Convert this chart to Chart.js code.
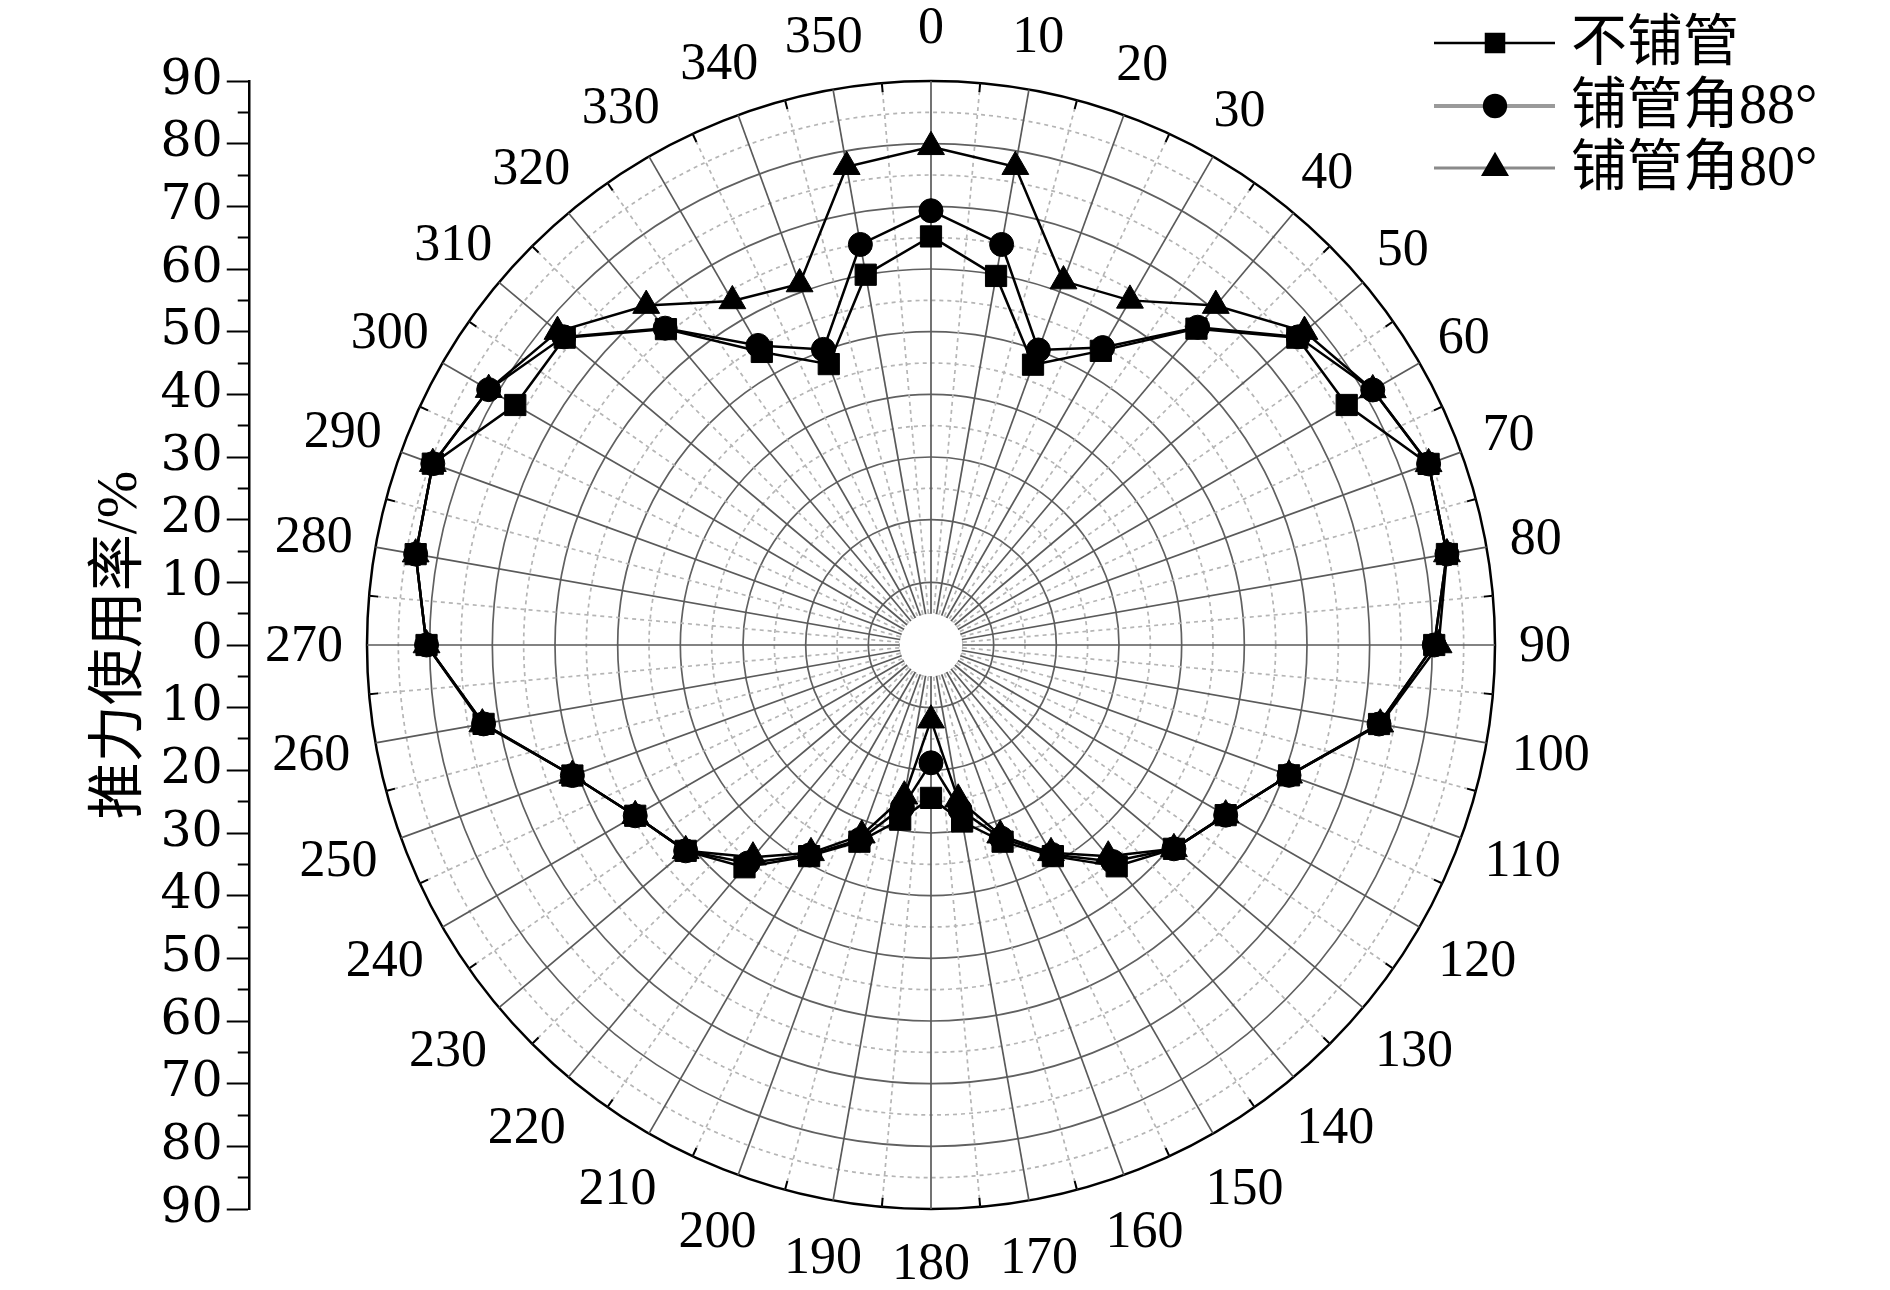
<!DOCTYPE html>
<html>
<head>
<meta charset="utf-8">
<script src="https://cdn.jsdelivr.net/npm/chart.js@4/dist/chart.umd.min.js"></script>
<style>
  html, body { margin: 0; padding: 0; background: #fff; }
  #wrap { position: relative; width: 1890px; height: 1290px; overflow: hidden; }
  #wrap canvas { position: absolute; left: 0; top: 0; }
</style>
</head>
<body>
<div id="wrap">
  <canvas id="axis" width="800" height="1290"></canvas>
  <canvas id="polar" width="1890" height="1290"></canvas>
</div>
<script>
// angle of the thrust direction, degrees (0 at top, clockwise)
const angles = [0, 10, 20, 30, 40, 50, 60, 70, 80, 90, 100, 110, 120, 130, 140, 150, 160, 170,
  180, 190, 200, 210, 220, 230, 240, 250, 260, 270, 280, 290, 300, 310, 320, 330, 340, 350];

// thrust utilisation, %
const noPipe = [65.2, 59.8, 47.6, 54.2, 65.9, 76.3, 76.6, 84.5, 83.6, 80.3, 72.6, 60.8, 54.3, 50.6, 46.1, 38.9, 33.4, 28.6,
  24.4, 28.3, 33.4, 38.9, 46.3, 51.1, 54.5, 60.9, 72.5, 80.5, 83.5, 84.6, 76.6, 76.3, 65.8, 54.0, 47.7, 60.0];
const pipe88 = [69.3, 64.9, 50.1, 54.8, 66.2, 76.5, 81.4, 84.5, 83.6, 80.3, 72.6, 60.8, 54.3, 50.6, 45.1, 38.6, 32.8, 26.7,
  18.8, 26.3, 33.0, 38.7, 45.4, 51.1, 54.5, 60.9, 72.5, 80.5, 83.5, 84.6, 81.5, 76.5, 66.0, 55.2, 50.2, 64.9];
const pipe80 = [79.5, 77.5, 61.8, 63.5, 70.7, 77.8, 81.4, 84.5, 83.6, 81.0, 72.8, 60.8, 54.3, 50.6, 44.0, 38.3, 32.3, 25.0,
  12.0, 24.5, 32.3, 38.3, 44.2, 51.1, 54.5, 60.9, 72.7, 80.5, 83.5, 84.6, 81.5, 77.8, 70.7, 63.4, 61.3, 77.5];

const seriesNames = ['不铺管', '铺管角88°', '铺管角80°'];
const radialTicks = [-90, 90];  // left axis runs 90..0..90

const serif = "'Liberation Serif', 'Times New Roman', serif";
const legendFont = "56px 'Liberation Serif', 'Noto Sans CJK SC', serif";

// The grid has a spoke every 5 degrees (dashed ones in between), so every
// angle gets an empty half-step slot; spanGaps joins the real points.
const slots = [];
angles.forEach((a) => { slots.push(String(a)); slots.push(''); });
const spread = (vals) => vals.flatMap((v) => [v, null]);

// legend drawn like the original: short line with the marker on it
const legendRows = [
  { y: 43, line: '#000', width: 2.5 },
  { y: 106, line: '#9a9a9a', width: 4 },
  { y: 168, line: '#8a8a8a', width: 3 },
];

const polarExtras = {
  id: 'polarExtras',
  beforeDatasetsDraw(chart) {
    const r = chart.scales.r;
    const ctx = chart.ctx;
    ctx.save();
    // blank hub in the middle where the spokes meet
    ctx.fillStyle = '#fff';
    ctx.beginPath();
    ctx.arc(r.xCenter, r.yCenter, r.getDistanceFromCenterForValue(5), 0, Math.PI * 2);
    ctx.fill();
    // short ticks inside the outer ring on the half-step spokes
    const outer = r.getDistanceFromCenterForValue(r.max);
    ctx.strokeStyle = '#000';
    ctx.lineWidth = 2;
    for (let i = 1; i < slots.length; i += 2) {
      const a = r.getPointPosition(i, outer);
      const b = r.getPointPosition(i, outer - 9);
      ctx.beginPath();
      ctx.moveTo(a.x, a.y);
      ctx.lineTo(b.x, b.y);
      ctx.stroke();
    }
    ctx.restore();
  },
  afterDraw(chart) {
    const r = chart.scales.r;
    const ctx = chart.ctx;
    ctx.save();
    // angle labels, centred on their spoke just outside the ring
    ctx.font = `52px ${serif}`;
    ctx.fillStyle = '#000';
    ctx.textAlign = 'center';
    ctx.textBaseline = 'middle';
    const outer = r.getDistanceFromCenterForValue(r.max);
    angles.forEach((a, i) => {
      const text = String(a);
      const w = ctx.measureText(text).width;
      const t = (a * Math.PI) / 180;
      const sx = Math.abs((w / 2) * Math.sin(t));
      const sy = Math.abs(30 * Math.cos(t));
      // lower half sits a little further out than the upper half
      const ext = a > 90 && a < 270 ? (sx + sy + Math.hypot(sx, sy)) / 2 : Math.hypot(sx, sy);
      const p = r.getPointPosition(i * 2, outer + 24 + ext);
      ctx.fillText(text, p.x, p.y + 2);
    });
    // legend
    chart.data.datasets.forEach((ds, i) => {
      const row = legendRows[i];
      ctx.strokeStyle = row.line;
      ctx.lineWidth = row.width;
      ctx.setLineDash([]);
      ctx.beginPath();
      ctx.moveTo(1434, row.y);
      ctx.lineTo(1555, row.y);
      ctx.stroke();
      ctx.fillStyle = '#000';
      ctx.strokeStyle = '#000';
      Chart.helpers.drawPoint(ctx, { pointStyle: ds.pointStyle, radius: ds.pointRadius * 0.85, rotation: 0, borderWidth: 1 }, 1495, row.y);
      ctx.font = legendFont;
      ctx.textBaseline = 'middle';
      ctx.textAlign = 'left';
      ctx.fillText(ds.label, 1571, row.y + 2);
    });
    ctx.restore();
  },
};

const lineSet = (label, values, style, radius) => ({
  label,
  data: spread(values),
  spanGaps: true,
  fill: false,
  borderColor: '#000',
  borderWidth: 2.5,
  pointStyle: style,
  pointRadius: radius,
  pointBackgroundColor: '#000',
  pointBorderColor: '#000',
  pointBorderWidth: 1,
});

new Chart(document.getElementById('polar'), {
  type: 'radar',
  data: {
    labels: slots,
    datasets: [
      lineSet(seriesNames[0], noPipe, 'rect', 15),
      lineSet(seriesNames[1], pipe88, 'circle', 12),
      lineSet(seriesNames[2], pipe80, 'triangle', 15.5),
    ],
  },
  options: {
    responsive: false,
    animation: false,
    layout: { padding: { top: 81, bottom: 81, left: 0, right: 28 } },
    plugins: { legend: { display: false }, tooltip: { enabled: false } },
    scales: {
      r: {
        min: 0,
        max: 90,
        startAngle: 0,
        ticks: { display: false, stepSize: 5 },
        grid: {
          circular: true,
          color: (c) => (c.tick.value === 90 ? '#000' : c.index % 2 ? '#b5b5b5' : '#606060'),
          lineWidth: (c) => (c.tick.value === 90 ? 2.5 : 1.7),
        },
        border: { dash: (c) => (c.index % 2 ? [4, 4] : []) },
        angleLines: {
          color: (c) => (c.index % 2 ? '#b5b5b5' : '#5a5a5a'),
          lineWidth: 1.7,
          borderDash: (c) => (c.index % 2 ? [4, 4] : []),
        },
        pointLabels: { display: false },
      },
    },
  },
  plugins: [polarExtras],
});

// left-hand radius axis, 90 at the top, 0 at the centre, 90 at the bottom
new Chart(document.getElementById('axis'), {
  type: 'scatter',
  data: { datasets: [] },
  options: {
    responsive: false,
    animation: false,
    layout: { padding: { left: 86, top: 81, bottom: 81, right: 0 } },
    plugins: { legend: { display: false }, tooltip: { enabled: false } },
    scales: {
      x: { display: false },
      y: {
        min: radialTicks[0],
        max: radialTicks[1],
        ticks: {
          stepSize: 5,
          autoSkip: false,
          padding: 4,
          color: '#000',
          font: { family: "'DejaVu Serif', serif", size: 49 },
          callback: (v) => (v % 10 === 0 ? String(Math.abs(v)) : ''),
        },
        grid: {
          drawOnChartArea: false,
          tickLength: 22,
          tickColor: '#000',
          tickWidth: 2,
          tickBorderDash: (c) => (c.tick && Math.abs(c.tick.value) % 10 !== 0 ? [0, 11, 100] : []),
        },
        border: { color: '#000', width: 2.5 },
        title: {
          display: true,
          text: '推力使用率/%',
          color: '#000',
          padding: 1,
          font: { family: "'Liberation Serif', 'Noto Sans CJK SC', serif", size: 57 },
        },
      },
    },
  },
});
</script>
</body>
</html>
